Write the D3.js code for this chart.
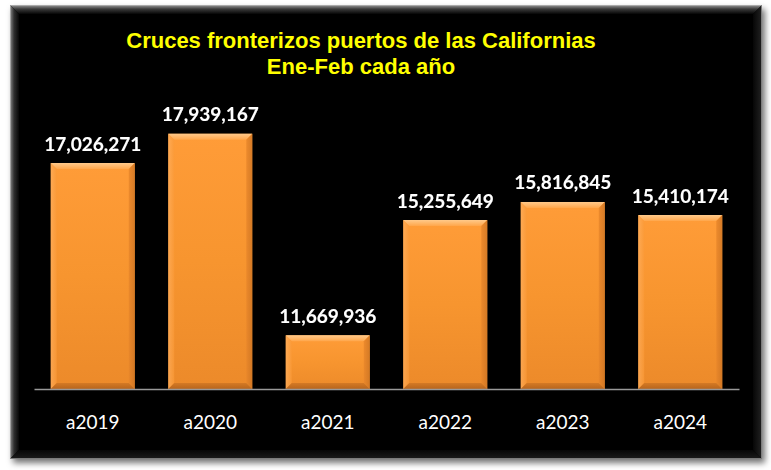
<!DOCTYPE html>
<html>
<head>
<meta charset="utf-8">
<script src="https://cdn.jsdelivr.net/npm/d3@7"></script>
<style>
html,body{margin:0;padding:0;background:#fff;}
svg{display:block;}
</style>
</head>
<body>
<svg id="chart" width="771" height="470"></svg>
<script>
const categories = ["a2019","a2020","a2021","a2022","a2023","a2024"];
const values = [17026271, 17939167, 11669936, 15255649, 15816845, 15410174];
const yDomain = [10000000, 20000000];
const titleLines = ["Cruces fronterizos puertos de las Californias", "Ene-Feb cada año"];

const svg = d3.select("#chart");
const defs = svg.append("defs");

// box geometry
const bx = 10, by = 5, bw = 752, bh = 454;

const sh = defs.append("filter").attr("id","boxShadow").attr("x","-5%").attr("y","-5%").attr("width","112%").attr("height","115%");
sh.append("feDropShadow").attr("dx",3).attr("dy",4).attr("stdDeviation",3).attr("flood-color","#000").attr("flood-opacity",0.55);

const ts = defs.append("filter").attr("id","txtShadow").attr("x","-10%").attr("y","-20%").attr("width","130%").attr("height","160%");
ts.append("feDropShadow").attr("dx",1.5).attr("dy",1.5).attr("stdDeviation",1).attr("flood-color","#000").attr("flood-opacity",0.9);

function lin(id, x1,y1,x2,y2, stops){
  const g = defs.append("linearGradient").attr("id",id).attr("x1",x1).attr("y1",y1).attr("x2",x2).attr("y2",y2);
  stops.forEach(s=>g.append("stop").attr("offset",s[0]).attr("stop-color",s[1]).attr("stop-opacity",s[2]===undefined?1:s[2]));
}
lin("bevTop",0,0,0,1,[[0,"#9a9a9a"],[0.45,"#3a3a3a"],[1,"#060606"]]);
lin("bevLeft",0,0,1,0,[[0,"#8a8a8a"],[0.45,"#2e2e2e"],[1,"#060606"]]);
lin("bevBot",0,0,0,1,[[0,"#060606"],[1,"#1c1c1c"]]);
lin("bevRight",0,0,1,0,[[0,"#060606"],[1,"#222"]]);

lin("barFill",0,0,0,1,[[0,"#FF9C38"],[0.5,"#F7952F"],[1,"#EC8A2A"]]);
lin("barTop",0,0,0,1,[[0,"#FFC98A"],[1,"#FFA64A"]]);
lin("barBot",0,0,0,1,[[0,"#D47A25"],[1,"#B8651C"]]);
lin("barLeft",0,0,1,0,[[0,"#FFB060"],[1,"#FA9A38"]]);
lin("barRight",0,0,1,0,[[0,"#E8862A"],[1,"#CC7322"]]);

svg.append("rect").attr("x",bx).attr("y",by).attr("width",bw).attr("height",bh)
  .attr("fill","#050505").attr("filter","url(#boxShadow)");
const bv = 9;
svg.append("path").attr("d",`M${bx},${by}L${bx+bw},${by}L${bx+bw-bv},${by+bv}L${bx+bv},${by+bv}Z`).attr("fill","url(#bevTop)");
svg.append("path").attr("d",`M${bx},${by}L${bx+bv},${by+bv}L${bx+bv},${by+bh-bv}L${bx},${by+bh}Z`).attr("fill","url(#bevLeft)");
svg.append("path").attr("d",`M${bx},${by+bh}L${bx+bv},${by+bh-bv}L${bx+bw-bv},${by+bh-bv}L${bx+bw},${by+bh}Z`).attr("fill","url(#bevBot)");
svg.append("path").attr("d",`M${bx+bw},${by}L${bx+bw},${by+bh}L${bx+bw-bv},${by+bh-bv}L${bx+bw-bv},${by+bv}Z`).attr("fill","url(#bevRight)");
svg.append("rect").attr("x",bx+0.5).attr("y",by+0.5).attr("width",bw-1).attr("height",bh-1)
  .attr("fill","none").attr("stroke","#bdbdbd").attr("stroke-width",1).attr("stroke-opacity",0.6);

const title = svg.append("text").attr("font-family","'Liberation Sans', Arial, sans-serif")
  .attr("font-weight","bold").attr("font-size",22).attr("fill","#FFFF00").attr("text-anchor","middle");
titleLines.forEach((t,i)=>title.append("tspan").attr("x",361).attr("y",48+i*26).text(t));

const x = d3.scaleBand().domain(categories).range([34,739]).paddingInner(0.285).paddingOuter(0.1425);
const y = d3.scaleLinear().domain(yDomain).range([389, 67.5]);

const bev = 6;
const g = svg.append("g");
categories.forEach((c,i)=>{
  const x0 = x(c), w = x.bandwidth(), y0 = y(values[i]), y1 = y(yDomain[0]);
  const x1 = x0 + w;
  const bg = g.append("g");
  bg.append("rect").attr("x",x0).attr("y",y0).attr("width",w).attr("height",y1-y0).attr("fill","url(#barFill)");
  bg.append("path").attr("d",`M${x0},${y0}L${x1},${y0}L${x1-bev},${y0+bev}L${x0+bev},${y0+bev}Z`).attr("fill","url(#barTop)");
  bg.append("path").attr("d",`M${x0},${y0}L${x0+bev},${y0+bev}L${x0+bev},${y1-bev}L${x0},${y1}Z`).attr("fill","url(#barLeft)").attr("opacity",0.7);
  bg.append("path").attr("d",`M${x1},${y0}L${x1},${y1}L${x1-bev},${y1-bev}L${x1-bev},${y0+bev}Z`).attr("fill","url(#barRight)").attr("opacity",0.8);
  bg.append("path").attr("d",`M${x0},${y1}L${x0+bev},${y1-bev}L${x1-bev},${y1-bev}L${x1},${y1}Z`).attr("fill","url(#barBot)");
});

const xAxis = d3.axisBottom(x).tickSize(0).tickPadding(0);
const ax = svg.append("g").attr("transform",`translate(0,${y(yDomain[0])})`).call(xAxis);
ax.select(".domain").attr("stroke","#999").attr("stroke-width",1.5);
ax.selectAll(".tick text").attr("font-family","Lato, 'Open Sans', sans-serif").attr("font-size",19)
  .attr("fill","#fff").attr("dy",null).attr("y",40);

const fmt = d3.format(",");
svg.append("g").selectAll("text").data(values).join("text")
  .attr("x",(d,i)=>x(categories[i])+x.bandwidth()/2)
  .attr("y",d=>y(d)-12.5)
  .attr("text-anchor","middle").attr("font-family","Lato, 'Open Sans', sans-serif")
  .attr("font-weight","bold").attr("font-size",19).attr("fill","#fff").attr("filter","url(#txtShadow)")
  .text(d=>fmt(d));
</script>
</body>
</html>
